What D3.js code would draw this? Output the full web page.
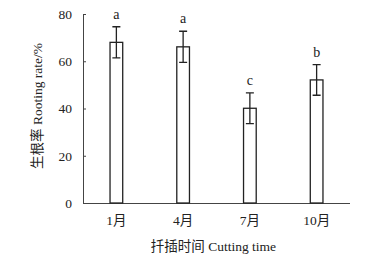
<!DOCTYPE html>
<html>
<head>
<meta charset="utf-8">
<title>生根率</title>
<script src="https://d3js.org/d3.v7.min.js"></script>
<style>
body { margin: 0; background: #fff; }
text { font-family: "Liberation Serif", "Times New Roman", "Noto Sans CJK SC", serif; fill: #222; }
</style>
</head>
<body>
<script>
var months = ["1月", "4月", "7月", "10月"];
var rooting = [68, 66.1, 40.1, 52.1];
var errors = [6.6, 6.6, 6.5, 6.5];
var letters = ["a", "a", "c", "b"];
var yTicks = [0, 20, 40, 60, 80];

var margin = {top: 14, right: 25, bottom: 59, left: 83};
var width = 375 - margin.left - margin.right;
var height = 262 - margin.top - margin.bottom;

var svg = d3.select("body").append("svg")
    .attr("width", 375)
    .attr("height", 262);

var g = svg.append("g")
    .attr("transform", "translate(" + margin.left + "," + margin.top + ")");

var x = d3.scaleBand().domain(months).range([0, width]).paddingInner(0.81).paddingOuter(0.405);
var y = d3.scaleLinear().domain([0, 80]).range([height, 0]);

var yAxis = g.append("g")
    .call(d3.axisLeft(y).tickValues(yTicks).tickSizeInner(-3).tickSizeOuter(0).tickPadding(11));
yAxis.select(".domain").attr("stroke", "#444");
yAxis.selectAll(".tick line").attr("stroke", "#444");
yAxis.selectAll("text").style("font-size", "13.5px").attr("fill", "#222");

var xAxis = g.append("g")
    .attr("transform", "translate(0," + height + ")")
    .call(d3.axisBottom(x).tickSize(0).tickPadding(12));
xAxis.select(".domain").attr("stroke", "#444").attr("d", "M0,0.5H" + width);
xAxis.selectAll("text").style("font-size", "13.5px").attr("fill", "#222");

var data = months.map(function(m, i) {
    return {m: m, v: rooting[i], e: errors[i], l: letters[i]};
});

g.selectAll(".bar").data(data).enter().append("rect")
    .attr("x", function(d) { return x(d.m); })
    .attr("y", function(d) { return y(d.v); })
    .attr("width", x.bandwidth())
    .attr("height", function(d) { return height - y(d.v); })
    .attr("fill", "#fff")
    .attr("stroke", "#222")
    .attr("stroke-width", 1.3);

var cx = function(d) { return x(d.m) + x.bandwidth() / 2; };

g.selectAll(".err").data(data).enter().append("path")
    .attr("d", function(d) {
        var c = cx(d), t = y(d.v + d.e), b = y(d.v - d.e);
        return "M" + c + "," + t + "V" + b + "M" + (c - 4) + "," + t + "H" + (c + 4) + "M" + (c - 4) + "," + b + "H" + (c + 4);
    })
    .attr("stroke", "#222")
    .attr("stroke-width", 1.3)
    .attr("fill", "none");

g.selectAll(".lab").data(data).enter().append("text")
    .attr("x", cx)
    .attr("y", function(d) { return y(d.v + d.e) - 8; })
    .attr("text-anchor", "middle")
    .style("font-size", "14px")
    .text(function(d) { return d.l; });

svg.append("text")
    .attr("x", margin.left + width / 2 - 3)
    .attr("y", 251)
    .attr("text-anchor", "middle")
    .style("font-size", "13.5px")
    .text("扦插时间 Cutting time");

svg.append("text")
    .attr("transform", "translate(42," + 106 + ") rotate(-90)")
    .attr("text-anchor", "middle")
    .style("font-size", "13.5px")
    .text("生根率 Rooting rate/%");
</script>
</body>
</html>
